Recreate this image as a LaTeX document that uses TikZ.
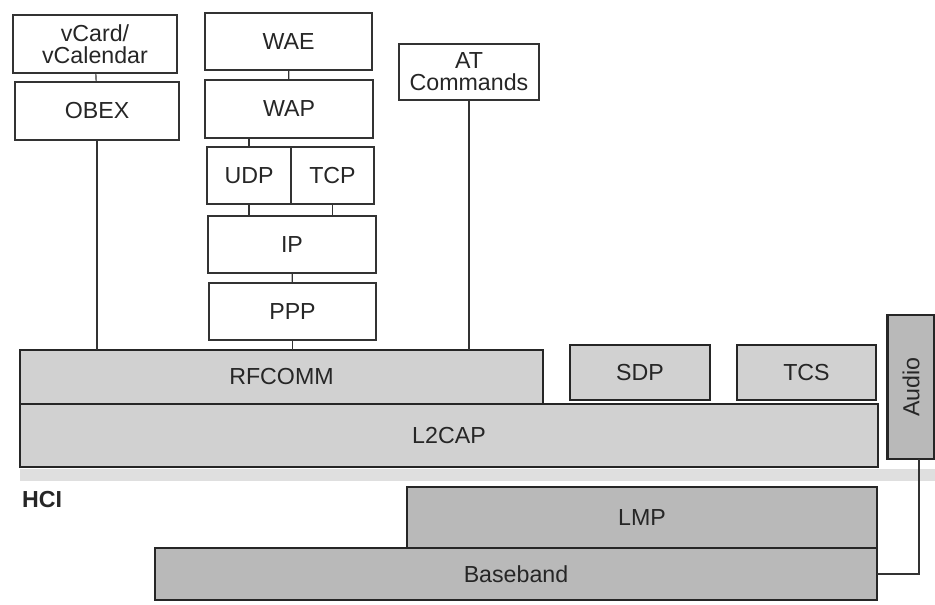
\documentclass[tikz,border=0pt]{standalone}
\usepackage{fontspec}
\setmainfont{Liberation Sans}
\usepackage{tikz}
\usetikzlibrary{calc}

\begin{document}
\begin{tikzpicture}[x=0.025cm, y=-0.025cm,
    layer/.style={draw=black!80, line width=0.8pt, inner sep=0pt, outer sep=0pt, align=center,
        font=\fontsize{16.5}{15.5}\selectfont, text=black!85},
    corebox/.style={layer, line width=1.6pt, draw=black!85, fill=gray!36},
    lowbox/.style={layer, line width=1.6pt, draw=black!85, fill=gray!55}]

    \useasboundingbox (0,0) rectangle (935,605);

    % OBEX side
    \node[layer, minimum width=4.1cm, minimum height=1.45cm] (vcard) at (95,44) {vCard/\\vCalendar};
    \node[layer, minimum width=4.1cm, minimum height=1.45cm] (obex) at (97,111) {OBEX};

    % WAP stack
    \node[layer, minimum width=4.175cm, minimum height=1.425cm] (wae) at (288.5,41.5) {WAE};
    \node[layer, minimum width=4.2cm, minimum height=1.45cm] (wap) at (289,109) {WAP};
    \node[layer, minimum width=2.1cm, minimum height=1.425cm] (udp) at (249,175.5) {UDP};
    \node[layer, minimum width=2.075cm, minimum height=1.425cm] (tcp) at (332.5,175.5) {TCP};
    \node[layer, minimum width=4.2cm, minimum height=1.425cm] (ip) at (292,244.5) {IP};
    \node[layer, minimum width=4.175cm, minimum height=1.425cm] (ppp) at (292.5,311.5) {PPP};

    % AT commands
    \node[layer, minimum width=3.5cm, minimum height=1.4cm] (atcmd) at (469,72) {AT\\Commands};

    % middleware layers
    \node[corebox, minimum width=13.075cm, minimum height=1.35cm] (rfcomm) at (281.5,377) {RFCOMM};
    \node[corebox, minimum width=3.5cm, minimum height=1.375cm] (sdp) at (640,372.5) {SDP};
    \node[corebox, minimum width=3.475cm, minimum height=1.375cm] (tcs) at (806.5,372.5) {TCS};
    \node[corebox, minimum width=21.45cm, minimum height=1.575cm] (l2cap) at (449,435.5) {L2CAP};
    \node[lowbox, minimum width=1.175cm, minimum height=3.6cm] (audio) at (911,387) {\rotatebox{90}{Audio}};

    % host controller interface
    \fill[gray!25] (20,469) rectangle (935,481);
    \node[font=\fontsize{16.5}{15.5}\selectfont\bfseries, text=black!85] (hci) at (42,500) {HCI};

    % radio layers
    \node[lowbox, minimum width=11.75cm, minimum height=1.525cm] (lmp) at (642,517.5) {LMP};
    \node[lowbox, minimum width=18.05cm, minimum height=1.3cm] (baseband) at (516,574) {Baseband};

    % connectors
    \draw[black!80, line width=0.8pt] (vcard) -- (obex);
    \draw[black!80, line width=0.8pt] (obex.south) -- (obex.south |- rfcomm.north);
    \draw[black!80, line width=0.8pt] (wae) -- (wap);
    \draw[black!80, line width=0.8pt] (udp.north |- wap.south) -- (udp.north);
    \draw[black!80, line width=0.8pt] (udp.south) -- (udp.south |- ip.north);
    \draw[black!80, line width=0.8pt] (tcp.south) -- (tcp.south |- ip.north);
    \draw[black!80, line width=0.8pt] (ip) -- (ppp);
    \draw[black!80, line width=0.8pt] (ppp.south) -- (ppp.south |- rfcomm.north);
    \draw[black!80, line width=0.8pt] (atcmd.south) -- (atcmd.south |- rfcomm.north);
    \draw[black!80, line width=0.8pt] ([xshift=0.2cm]audio.south) |- (baseband.east);

\end{tikzpicture}
\end{document}
